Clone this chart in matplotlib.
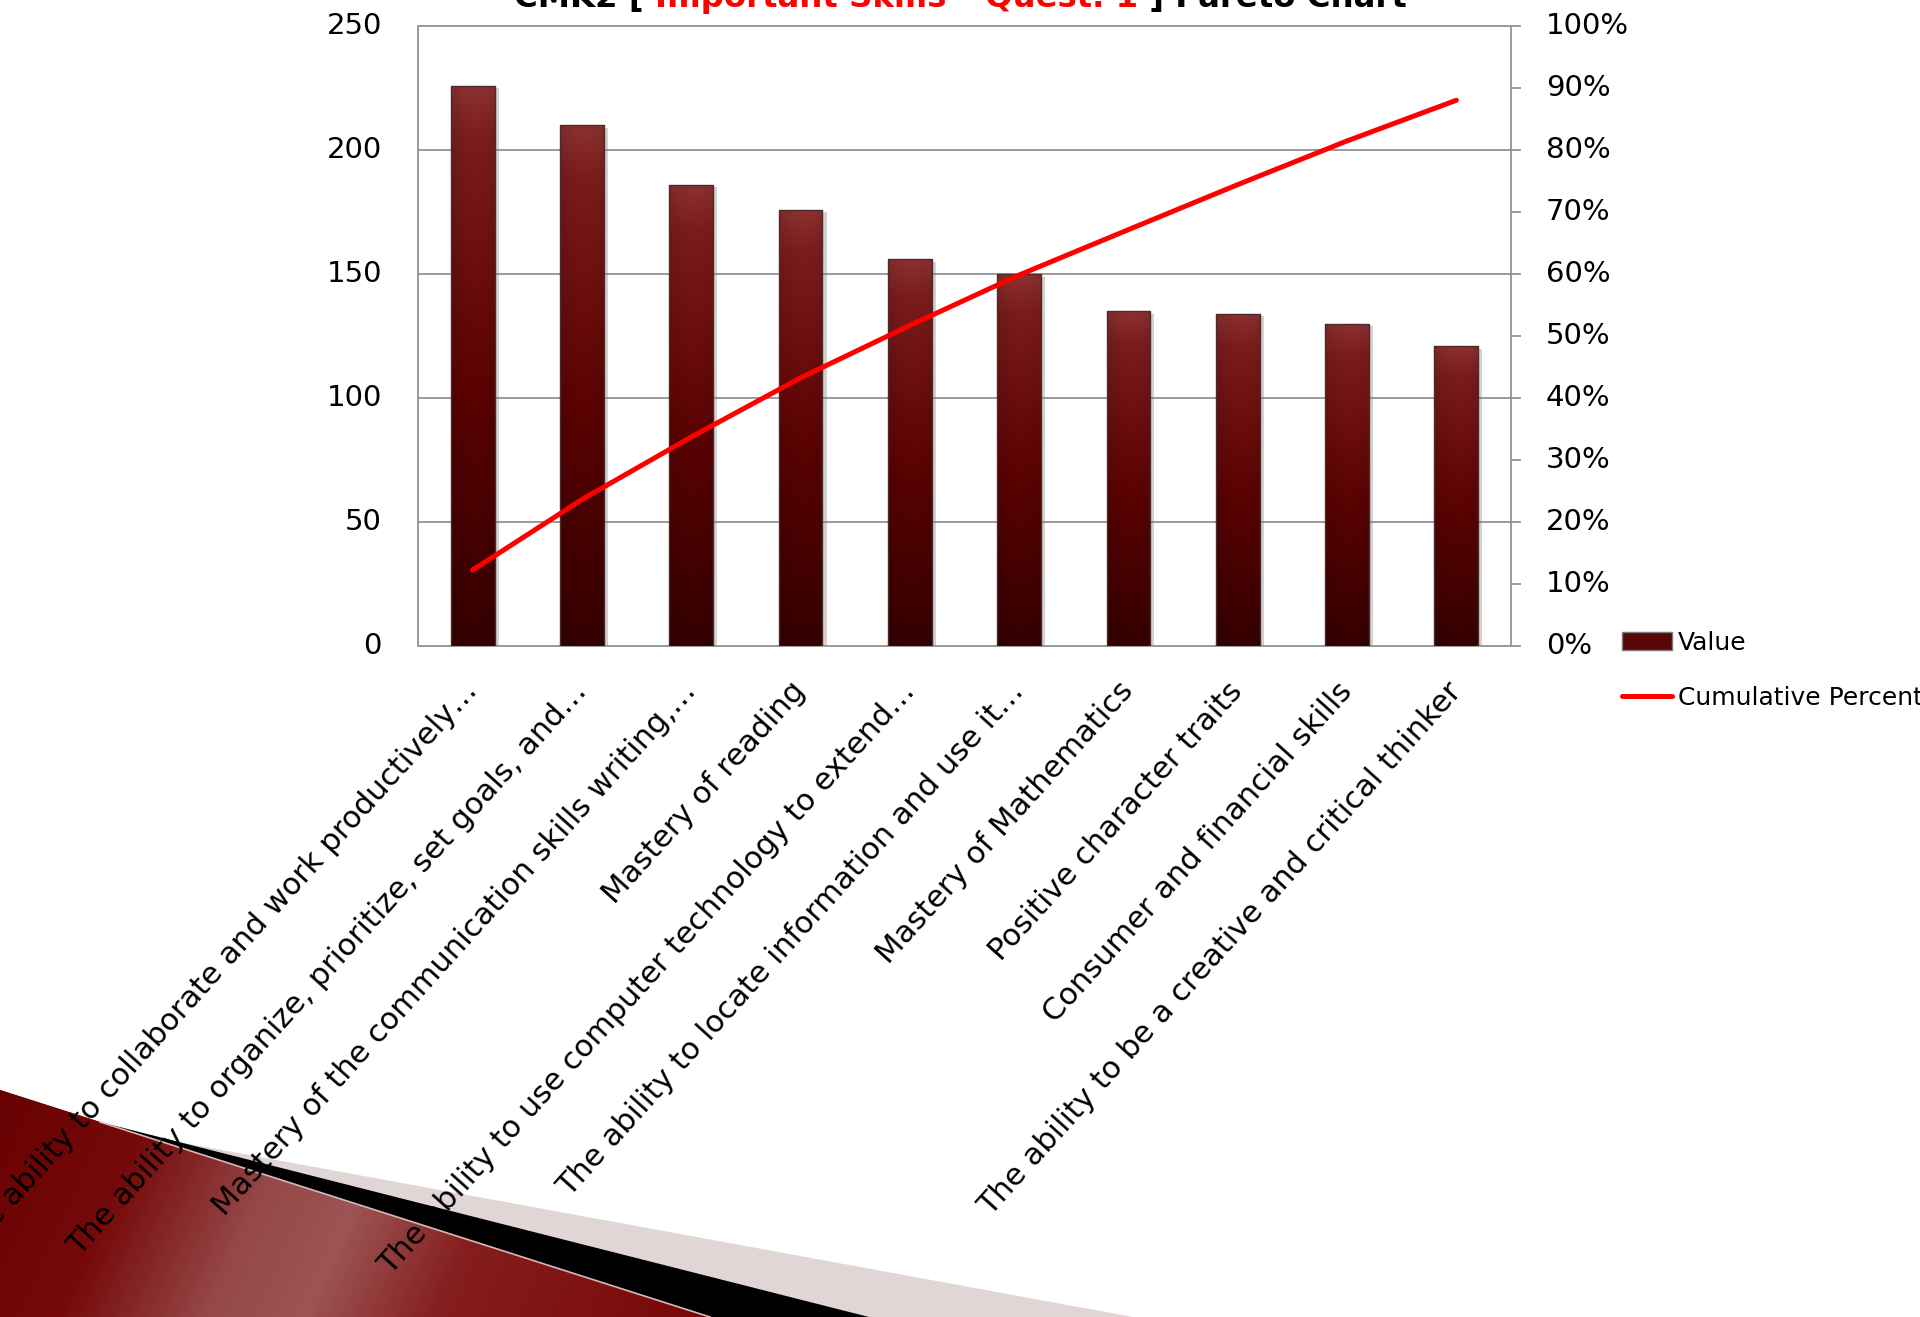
import numpy as np
import matplotlib
matplotlib.use("Agg")
import matplotlib.pyplot as plt
from matplotlib.patches import Patch, Polygon
from matplotlib.lines import Line2D
from matplotlib.ticker import FuncFormatter
from matplotlib.transforms import ScaledTranslation
from matplotlib import patheffects

# ---- data -------------------------------------------------------------
skills = [
    "The ability to collaborate and work productively\u2026",
    "The ability to organize, prioritize, set goals, and\u2026",
    "Mastery of the communication skills writing,\u2026",
    "Mastery of reading",
    "The ability to use computer technology to extend\u2026",
    "The ability to locate information and use it\u2026",
    "Mastery of Mathematics",
    "Positive character traits",
    "Consumer and financial skills",
    "The ability to be a creative and critical thinker",
]
values = [226, 210, 186, 176, 156, 150, 135, 134, 130, 121]
total_responses = 1845          # all answers, including the skills not listed
y_ticks = [0, 50, 100, 150, 200, 250]
pct_ticks = [i / 10 for i in range(11)]

cum_pct = np.cumsum(values) / total_responses

# ---- figure -----------------------------------------------------------
W, H = 1920, 1317
fig = plt.figure(figsize=(W / 100, H / 100), dpi=100)
fig.patch.set_facecolor("white")
plt.rcParams["font.family"] = ["DejaVu Sans"]


def rgb(h):
    h = h.lstrip("#")
    return np.array([int(h[i:i + 2], 16) for i in (0, 2, 4)]) / 255.0


def ramp(stops, t):
    """Colour ramp through (position, colour) stops, sampled at t."""
    pos = [s[0] for s in stops]
    cols = np.array([rgb(s[1]) for s in stops])
    return np.stack([np.interp(t, pos, cols[:, k]) for k in range(3)], axis=-1)


# ---- slide decoration in the lower-left corner -----------------------
bg = fig.add_axes([0, 0, 1, 1], zorder=-10)
bg.axis("off")

light = Polygon([(140, 1135), (1133, H), (700, H)], closed=True,
                facecolor="#e0d6d6", edgecolor="none")
bg.add_patch(light)
black = Polygon([(100, 1122), (869, H), (705, H)], closed=True,
                facecolor="black", edgecolor="none")
bg.add_patch(black)
red = Polygon([(0, 1090), (710, H), (0, H)], closed=True,
              facecolor="#700000", edgecolor="none")
bg.add_patch(red)
gx, gy = np.meshgrid(np.linspace(0, 720, 360), np.linspace(1085, H, 120))
diag = np.clip((gx + 0.45 * (gy - 1085)) / 820, 0, 1)
shade = ramp([(0, "#680202"), (0.2, "#760a0a"), (0.38, "#964848"),
              (0.5, "#9c5454"), (0.66, "#851e1e"), (1.0, "#780606")], diag)
im = bg.imshow(shade, extent=[0, 720, H, 1085], aspect="auto", origin="upper", zorder=2)
im.set_clip_path(red)
bg.plot([100, 710], [1122, H], color="#d8b8b8", lw=1.2, zorder=3)
bg.set_xlim(0, W)
bg.set_ylim(H, 0)

# ---- main axes --------------------------------------------------------
left, right, top, bottom = 418, 1511, 26, 646
ax = fig.add_axes([left / W, 1 - bottom / H, (right - left) / W, (bottom - top) / H])
x = np.arange(len(values))
grid_c = "#9a9a9a"
bar_w = 0.40

bars = ax.bar(x, values, width=bar_w, color="#3a0000", edgecolor="none", zorder=2)
vert = ramp([(0, "#8c3030"), (0.1, "#7b1c1c"), (0.4, "#660909"),
             (0.55, "#5a0202"), (1.0, "#350000")], np.linspace(0, 1, 256))
horiz = 0.88 + 0.12 * np.sin(np.linspace(0.15, np.pi - 0.5, 40))
for b in bars:
    b.set_path_effects([patheffects.SimplePatchShadow(offset=(3, -2), shadow_rgbFace="#808080", alpha=0.35),
                        patheffects.Normal()])
    x0, w, h = b.get_x(), b.get_width(), b.get_height()
    grad = vert[:, None, :] * horiz[None, :, None]
    g = ax.imshow(np.clip(grad, 0, 1), extent=[x0, x0 + w, 0, h], aspect="auto",
                  origin="upper", zorder=3)
    g.set_clip_path(b)
ax.bar(x, values, width=bar_w, fill=False, edgecolor="#4a2a2a", linewidth=1.0, zorder=4)

ax.set_xlim(-0.5, len(values) - 0.5)
ax.set_ylim(0, 250)
ax.set_yticks(y_ticks)
ax.yaxis.grid(True, color=grid_c, linewidth=1.4)
ax.set_axisbelow(True)
for s in ("left", "bottom", "top"):
    ax.spines[s].set_color(grid_c)
    ax.spines[s].set_linewidth(1.4)
ax.spines["right"].set_visible(False)
ax.tick_params(axis="y", length=0, pad=26, labelsize=21)
ax.set_xticks(x)
ax.set_xticklabels(skills, rotation=48, ha="right", va="center",
                   rotation_mode="anchor", fontsize=22)
ax.tick_params(axis="x", length=0, pad=29)

ax2 = ax.twinx()
ax2.set_ylim(0, 1)
ax2.set_yticks(pct_ticks)
ax2.yaxis.set_major_formatter(FuncFormatter(lambda v, _: f"{v:.0%}"))
ax2.tick_params(axis="y", length=7, width=1.4, color=grid_c, pad=18, labelsize=21)
for s in ("left", "bottom", "top"):
    ax2.spines[s].set_visible(False)
ax2.spines["right"].set_color(grid_c)
ax2.spines["right"].set_linewidth(1.4)
ax2.plot(x, cum_pct, color="#ff0000", lw=3.6, solid_capstyle="round", zorder=5)

# value labels on both axes sit a little above their gridlines
lift = ScaledTranslation(0, 3.5 / 100, fig.dpi_scale_trans)
for axis in (ax.yaxis, ax2.yaxis):
    for tick in axis.get_major_ticks():
        for lbl in (tick.label1, tick.label2):
            lbl.set_transform(lbl.get_transform() + lift)

# ---- legend -----------------------------------------------------------
handles = [Patch(facecolor="#5a0606", edgecolor="#7a7a7a", linewidth=1.0),
           Line2D([], [], color="#ff0000", lw=3.6, solid_capstyle="round")]
fig.legend(handles, ["Value", "Cumulative Percent"], loc="upper left",
           bbox_to_anchor=(1609 / W, 1 - 618 / H), bbox_transform=fig.transFigure,
           frameon=False, fontsize=18, borderpad=0, handlelength=2.0,
           handleheight=0.7, handletextpad=0.25, labelspacing=1.25)

# ---- title (runs off the top edge of the slide) ----------------------
parts = [("CMK2 [ ", "black"), ("Important Skills \u2013 Quest. 1", "#ff0000"),
         (" ] Pareto Chart", "black")]
fig.canvas.draw()
renderer = fig.canvas.get_renderer()
xpos = 514
for txt, col in parts:
    t = fig.text(xpos / W, 1 - 7 / H, txt, color=col, fontsize=23.3,
                 fontweight="bold", va="baseline", ha="left")
    xpos += t.get_window_extent(renderer).width

fig.savefig("out.png", dpi=100, facecolor="white")
